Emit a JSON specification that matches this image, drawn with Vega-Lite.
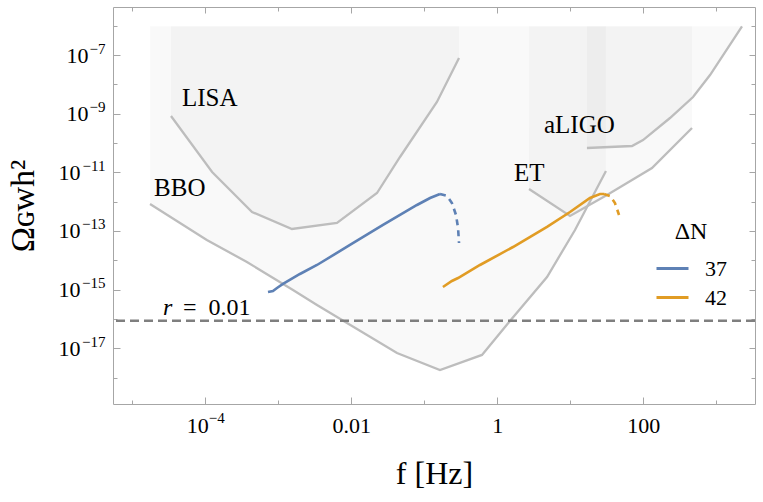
{
  "$schema": "https://vega.github.io/schema/vega-lite/v6.json",
  "width": 642,
  "height": 397,
  "autosize": {"type": "none"},
  "padding": {"left": 113, "top": 7, "right": 8, "bottom": 98},
  "config": {
    "font": "Liberation Serif",
    "view": {"stroke": "#a6a6a6", "strokeWidth": 1},
    "axis": {
      "grid": false,
      "domain": false,
      "labelFont": "Liberation Serif",
      "labelFontSize": 22,
      "labelColor": "#000",
      "tickColor": "#a6a6a6",
      "tickWidth": 1,
      "labelOverlap": false,
      "labelFlush": false,
      "labelBound": false,
      "titleFont": "Liberation Serif",
      "titleFontWeight": "normal",
      "titleColor": "#000"
    },
    "legend": {
      "orient": "none",
      "legendX": 542,
      "legendY": 213,
      "padding": 0,
      "titleFont": "Liberation Serif",
      "titleFontSize": 24,
      "titleFontWeight": "normal",
      "titleColor": "#000",
      "titlePadding": 7,
      "titleAnchor": "middle",
      "labelFont": "Liberation Serif",
      "labelFontSize": 22,
      "labelColor": "#000",
      "labelOffset": 15,
      "symbolType": "stroke",
      "symbolSize": 1024,
      "symbolStrokeWidth": 3,
      "rowPadding": 0
    }
  },
  "datasets": {
    "lisa": [
      {"f": 3.39e-5, "o": 8.32e-10},
      {"f": 1.24e-4, "o": 1.03e-11},
      {"f": 4.37e-4, "o": 4.44e-13},
      {"f": 1.54e-3, "o": 1.17e-13},
      {"f": 6.37e-3, "o": 1.87e-13},
      {"f": 2.25e-2, "o": 1.97e-12},
      {"f": 4.65e-2, "o": 3.33e-11},
      {"f": 0.149, "o": 2.5e-9},
      {"f": 0.299, "o": 7.91e-8}
    ],
    "bbo": [
      {"f": 1.75e-5, "o": 8.32e-13},
      {"f": 1.05e-4, "o": 4.92e-14},
      {"f": 3.72e-4, "o": 8.75e-15},
      {"f": 1.59e-3, "o": 9.73e-16},
      {"f": 3.39e-3, "o": 2.99e-16},
      {"f": 4.23e-2, "o": 6.92e-18},
      {"f": 0.164, "o": 1.82e-18},
      {"f": 0.617, "o": 5.92e-18},
      {"f": 1.49, "o": 8.53e-17},
      {"f": 4.8, "o": 2.7e-15},
      {"f": 11.6, "o": 1.08e-13},
      {"f": 30.8, "o": 1.11e-11}
    ],
    "et": [
      {"f": 2.72, "o": 2.7e-12},
      {"f": 9.91, "o": 3.24e-13},
      {"f": 31.8, "o": 1.69e-12},
      {"f": 131.5, "o": 1.4e-11},
      {"f": 464.5, "o": 3.24e-10}
    ],
    "aligo": [
      {"f": 16.9, "o": 6.75e-11},
      {"f": 70.0, "o": 7.89e-11},
      {"f": 99.1, "o": 1.26e-10},
      {"f": 232, "o": 7.11e-10},
      {"f": 480, "o": 3.7e-9},
      {"f": 820, "o": 2.08e-8},
      {"f": 2249, "o": 9.5e-7}
    ],
    "gw": [
      {"n": "37", "seg": "solid", "i": 0, "f": 7.23e-4, "o": 8.3e-16},
      {"n": "37", "seg": "solid", "i": 1, "f": 8.45e-4, "o": 9.0e-16},
      {"n": "37", "seg": "solid", "i": 2, "f": 9.6e-4, "o": 1.14e-15},
      {"n": "37", "seg": "solid", "i": 3, "f": 1.16e-3, "o": 1.56e-15},
      {"n": "37", "seg": "solid", "i": 4, "f": 1.98e-3, "o": 3.41e-15},
      {"n": "37", "seg": "solid", "i": 5, "f": 3.39e-3, "o": 6.92e-15},
      {"n": "37", "seg": "solid", "i": 6, "f": 9.6e-3, "o": 3.33e-14},
      {"n": "37", "seg": "solid", "i": 7, "f": 2.72e-2, "o": 1.6e-13},
      {"n": "37", "seg": "solid", "i": 8, "f": 7.94e-2, "o": 7.69e-13},
      {"n": "37", "seg": "solid", "i": 9, "f": 0.12, "o": 1.33e-12},
      {"n": "37", "seg": "solid", "i": 10, "f": 0.164, "o": 1.82e-12},
      {"n": "37", "seg": "dash", "i": 11, "f": 0.164, "o": 1.82e-12},
      {"n": "37", "seg": "dash", "i": 12, "f": 0.205, "o": 1.56e-12},
      {"n": "37", "seg": "dash", "i": 13, "f": 0.239, "o": 9.0e-13},
      {"n": "37", "seg": "dash", "i": 14, "f": 0.272, "o": 3.51e-13},
      {"n": "37", "seg": "dash", "i": 15, "f": 0.29, "o": 1.26e-13},
      {"n": "37", "seg": "dash", "i": 16, "f": 0.299, "o": 3.89e-14},
      {"n": "42", "seg": "solid", "i": 0, "f": 0.18, "o": 1.23e-15},
      {"n": "42", "seg": "solid", "i": 1, "f": 0.239, "o": 1.97e-15},
      {"n": "42", "seg": "solid", "i": 2, "f": 0.29, "o": 2.49e-15},
      {"n": "42", "seg": "solid", "i": 3, "f": 0.579, "o": 6.92e-15},
      {"n": "42", "seg": "solid", "i": 4, "f": 1.64, "o": 2.84e-14},
      {"n": "42", "seg": "solid", "i": 5, "f": 4.8, "o": 1.37e-13},
      {"n": "42", "seg": "solid", "i": 6, "f": 9.91, "o": 4.44e-13},
      {"n": "42", "seg": "solid", "i": 7, "f": 18.6, "o": 1.33e-12},
      {"n": "42", "seg": "solid", "i": 8, "f": 25.5, "o": 1.82e-12},
      {"n": "42", "seg": "solid", "i": 9, "f": 29.0, "o": 1.82e-12},
      {"n": "42", "seg": "dash", "i": 10, "f": 29.0, "o": 1.82e-12},
      {"n": "42", "seg": "dash", "i": 11, "f": 35.0, "o": 1.56e-12},
      {"n": "42", "seg": "dash", "i": 12, "f": 40.9, "o": 9.0e-13},
      {"n": "42", "seg": "dash", "i": 13, "f": 46.5, "o": 3.51e-13}
    ],
    "rline": [{"o": 8.73e-17}],
    "labels": [
      {"f": 4.8e-5, "o": 1.82e-9, "label": "LISA", "kind": "detector"},
      {"f": 1.99e-5, "o": 1.56e-12, "label": "BBO", "kind": "detector"},
      {"f": 4.36, "o": 2.19e-10, "label": "aLIGO", "kind": "detector"},
      {"f": 1.69, "o": 5.06e-12, "label": "ET", "kind": "detector"},
      {"f": 2.64e-5, "o": 1.36e-16, "label": "r", "kind": "var"},
      {"f": 4.95e-5, "o": 1.36e-16, "label": "=\u20020.01", "kind": "eq"}
    ]
  },
  "layer": [
    {
      "data": {"name": "bbo"},
      "mark": {"type": "area", "color": "#000", "opacity": 0.025},
      "encoding": {
        "x": {
          "field": "f",
          "type": "quantitative",
          "scale": {"type": "log", "domain": [5.445e-6, 3388], "nice": false},
          "axis": {
            "orient": "bottom",
            "values": [1e-4, 1e-2, 1, 100],
            "labelExpr": "datum.value < 1e-3 ? '10' : datum.value < 0.1 ? '0.01' : datum.value < 10 ? '1' : '100'",
            "labelOffset": {"condition": {"test": "datum.value < 1e-3", "value": -8}, "value": 0},
            "ticks": false,
            "tickSize": 0,
            "labelPadding": 11,
            "title": "f [Hz]",
            "titleFontSize": 32,
            "titlePadding": 22
          }
        },
        "y": {
          "field": "o",
          "type": "quantitative",
          "scale": {"type": "log", "domain": [1.259e-19, 4.335e-6], "nice": false},
          "axis": {
            "orient": "left",
            "values": [1e-17, 1e-15, 1e-13, 1e-11, 1e-9, 1e-7],
            "labelExpr": "'10'",
            "labelPadding": {"condition": {"test": "datum.value > 1e-10", "value": 25}, "value": 33},
            "ticks": false,
            "tickSize": 0,
            "title": "Ωɢᴡh²",
            "titleFontSize": 34,
            "titlePadding": 18
          }
        },
        "y2": {"datum": 9.5e-7}
      }
    },
    {
      "data": {"name": "lisa"},
      "mark": {"type": "area", "color": "#000", "opacity": 0.025},
      "encoding": {
        "x": {
          "field": "f",
          "type": "quantitative",
          "axis": {
            "orient": "bottom",
            "values": [1e-4],
            "labelExpr": "'−4'",
            "labelFontSize": 15,
            "labelAlign": "left",
            "labelOffset": 3,
            "labelPadding": 6,
            "ticks": false,
            "tickSize": 0,
            "title": null
          }
        },
        "y": {
          "field": "o",
          "type": "quantitative",
          "axis": {
            "orient": "left",
            "values": [1e-17, 1e-15, 1e-13, 1e-11, 1e-9, 1e-7],
            "labelExpr": "'−' + toString(-round(log(datum.value)/LN10))",
            "labelFontSize": 15,
            "labelAlign": "right",
            "labelOffset": -7,
            "labelPadding": 8,
            "ticks": false,
            "tickSize": 0,
            "title": null
          }
        },
        "y2": {"datum": 9.5e-7}
      }
    },
    {
      "data": {"name": "et"},
      "mark": {"type": "area", "color": "#000", "opacity": 0.025},
      "encoding": {
        "x": {
          "field": "f",
          "type": "quantitative",
          "axis": {"orient": "bottom", "values": [1e-4, 1e-2, 1, 100], "labels": false, "tickSize": 7, "offset": -7, "title": null}
        },
        "y": {
          "field": "o",
          "type": "quantitative",
          "axis": {"orient": "left", "values": [1e-17, 1e-15, 1e-13, 1e-11, 1e-9, 1e-7], "labels": false, "tickSize": 7, "offset": -7, "title": null}
        },
        "y2": {"datum": 9.5e-7}
      }
    },
    {
      "data": {"name": "aligo"},
      "mark": {"type": "area", "color": "#000", "opacity": 0.025},
      "encoding": {
        "x": {
          "field": "f",
          "type": "quantitative",
          "axis": {"orient": "bottom", "values": [1e-5, 1e-3, 0.1, 10, 1000], "labels": false, "tickSize": 4, "offset": -4, "title": null}
        },
        "y": {
          "field": "o",
          "type": "quantitative",
          "axis": {"orient": "left", "values": [1e-18, 1e-16, 1e-14, 1e-12, 1e-10, 1e-8, 1e-6], "labels": false, "tickSize": 4, "offset": -4, "title": null}
        },
        "y2": {"datum": 9.5e-7}
      }
    },
    {
      "data": {"name": "bbo"},
      "mark": {"type": "line", "color": "#bdbdbd", "strokeWidth": 2.3},
      "encoding": {
        "x": {
          "field": "f",
          "type": "quantitative",
          "axis": {"orient": "top", "values": [1e-4, 1e-2, 1, 100], "labels": false, "tickSize": 6, "offset": -6, "title": null}
        },
        "y": {
          "field": "o",
          "type": "quantitative",
          "axis": {"orient": "right", "values": [1e-17, 1e-15, 1e-13, 1e-11, 1e-9, 1e-7], "labels": false, "tickSize": 6, "offset": -6, "title": null}
        }
      }
    },
    {
      "data": {"name": "lisa"},
      "mark": {"type": "line", "color": "#bdbdbd", "strokeWidth": 2.3},
      "encoding": {
        "x": {
          "field": "f",
          "type": "quantitative",
          "axis": {"orient": "top", "values": [1e-5, 1e-3, 0.1, 10, 1000], "labels": false, "tickSize": 4, "offset": -4, "title": null}
        },
        "y": {
          "field": "o",
          "type": "quantitative",
          "axis": {"orient": "right", "values": [1e-18, 1e-16, 1e-14, 1e-12, 1e-10, 1e-8, 1e-6], "labels": false, "tickSize": 4, "offset": -4, "title": null}
        }
      }
    },
    {
      "data": {"name": "et"},
      "mark": {"type": "line", "color": "#bdbdbd", "strokeWidth": 2.3},
      "encoding": {
        "x": {"field": "f", "type": "quantitative", "axis": null},
        "y": {"field": "o", "type": "quantitative", "axis": null}
      }
    },
    {
      "data": {"name": "aligo"},
      "mark": {"type": "line", "color": "#bdbdbd", "strokeWidth": 2.3},
      "encoding": {
        "x": {"field": "f", "type": "quantitative", "axis": null},
        "y": {"field": "o", "type": "quantitative", "axis": null}
      }
    },
    {
      "data": {"name": "rline"},
      "mark": {"type": "rule", "color": "#7f7f7f", "strokeWidth": 2.5, "strokeDash": [9, 5]},
      "encoding": {
        "y": {"field": "o", "type": "quantitative", "axis": null}
      }
    },
    {
      "data": {"name": "gw"},
      "transform": [{"filter": "datum.seg == 'solid'"}],
      "mark": {"type": "line", "strokeWidth": 2.6},
      "encoding": {
        "x": {"field": "f", "type": "quantitative", "axis": null},
        "y": {"field": "o", "type": "quantitative", "axis": null},
        "order": {"field": "i", "type": "quantitative"},
        "color": {
          "field": "n",
          "type": "nominal",
          "scale": {"domain": ["37", "42"], "range": ["#5e81b5", "#e19c24"]},
          "legend": {"title": "ΔN"}
        }
      }
    },
    {
      "data": {"name": "gw"},
      "transform": [{"filter": "datum.seg == 'dash'"}],
      "mark": {"type": "line", "strokeWidth": 2.6, "strokeDash": [6, 5]},
      "encoding": {
        "x": {"field": "f", "type": "quantitative", "axis": null},
        "y": {"field": "o", "type": "quantitative", "axis": null},
        "order": {"field": "i", "type": "quantitative"},
        "color": {"field": "n", "type": "nominal", "legend": null}
      }
    },
    {
      "data": {"name": "labels"},
      "transform": [{"filter": "datum.kind == 'detector'"}],
      "mark": {"type": "text", "align": "left", "baseline": "alphabetic", "fontSize": 25, "font": "Liberation Serif", "color": "#000"},
      "encoding": {
        "x": {"field": "f", "type": "quantitative", "axis": null},
        "y": {"field": "o", "type": "quantitative", "axis": null},
        "text": {"field": "label"}
      }
    },
    {
      "data": {"name": "labels"},
      "transform": [{"filter": "datum.kind == 'eq'"}],
      "mark": {"type": "text", "align": "left", "baseline": "alphabetic", "fontSize": 24, "font": "Liberation Serif", "color": "#000"},
      "encoding": {
        "x": {"field": "f", "type": "quantitative", "axis": null},
        "y": {"field": "o", "type": "quantitative", "axis": null},
        "text": {"field": "label"}
      }
    },
    {
      "data": {"name": "labels"},
      "transform": [{"filter": "datum.kind == 'var'"}],
      "mark": {"type": "text", "align": "left", "baseline": "alphabetic", "fontSize": 24, "fontStyle": "italic", "font": "Liberation Serif", "color": "#000"},
      "encoding": {
        "x": {"field": "f", "type": "quantitative", "axis": null},
        "y": {"field": "o", "type": "quantitative", "axis": null},
        "text": {"field": "label"}
      }
    }
  ],
  "resolve": {"axis": {"x": "independent", "y": "independent"}}
}
